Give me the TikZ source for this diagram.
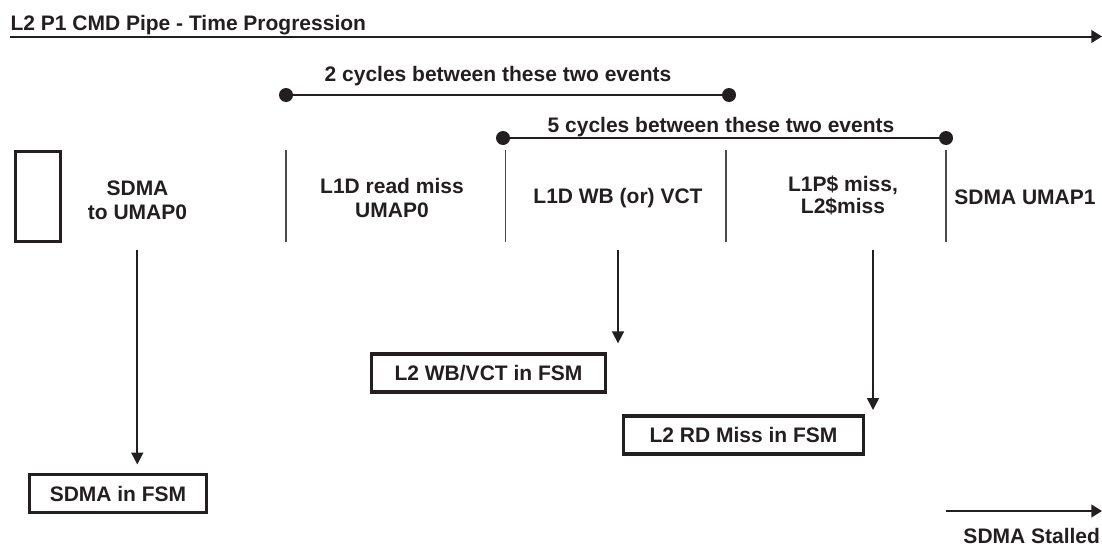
\documentclass[tikz,border=0pt]{standalone}
\usepackage{fontspec}
\setmainfont{Liberation Sans}
\usetikzlibrary{arrows.meta}
\definecolor{ink}{HTML}{231F20}
\definecolor{rule}{HTML}{4A4A4A}
\begin{document}
\begin{tikzpicture}[x=0.75pt,y=-0.75pt,
  every node/.style={inner sep=0pt,outer sep=0pt,text=ink,
    font=\fontsize{15.75}{18}\selectfont\bfseries},
  label2/.style={align=center},
  fsmbox/.style={draw=ink,line width=2.5pt,minimum height=28.5pt},
  sep/.style={draw=rule,line width=1.3pt},
  span/.style={draw=ink,line width=2pt},
  dot/.style={circle,fill=ink,minimum size=10.5pt},
  arr/.style={draw=ink,line width=1.3pt,-{Triangle[length=9pt,width=9pt]}},
  axis/.style={draw=ink,line width=1.5pt,-{Triangle[length=8pt,width=9.5pt]}}]
\useasboundingbox (0,0) rectangle (1102,546);

% time axis
\node[anchor=base west] (title) at (10.5,30) {L2 P1 CMD Pipe - Time Progression};
\coordinate (ax0) at (10,36.5);
\coordinate (ax1) at (1102,36.5);
\draw[axis] (ax0) -- (ax1);

% cycle spans
\node[dot] (d1a) at (286,95) {};
\node[dot] (d1b) at (729,95) {};
\draw[span] (d1a) -- (d1b);
\node[anchor=base] (c2) at (498,81) {2 cycles between these two events};

\node[dot] (d2a) at (503,138) {};
\node[dot] (d2b) at (946,138) {};
\draw[span] (d2a) -- (d2b);
\node[anchor=base] (c5) at (721,132) {5 cycles between these two events};

% pipe stage boundaries
\node[draw=ink,line width=2.6pt,minimum width=33.75pt,minimum height=67.5pt] (stage0) at (38,196.5) {};
\foreach \x/\n in {286/s1,505.5/s2,726/s3,946/s4}{
  \coordinate (\n t) at (\x,150);
  \coordinate (\n b) at (\x,242);
  \draw[sep] (\n t) -- (\n b);
}

% stage labels
\node[label2] (l1) at (137.5,200) {SDMA\\to UMAP0};
\node[label2] (l2) at (392,197.5) {L1D read miss\\UMAP0};
\node[anchor=base] (l3) at (618,203) {L1D WB (or) VCT};
\node[label2,font=\fontsize{15.75}{16.5}\selectfont\bfseries] (l4) at (843,195) {L1P\$ miss,\\L2\$miss};
\node[anchor=base] (l5) at (1025,204) {SDMA UMAP1};

% FSM entries
\node[fsmbox,minimum width=132.75pt] (f1) at (118,493.5) {SDMA in FSM};
\node[fsmbox,minimum width=175.5pt] (f2) at (488.5,373) {L2 WB/VCT in FSM};
\node[fsmbox,minimum width=180pt] (f3) at (743.5,435) {L2 RD Miss in FSM};

\coordinate (a1) at (137.3,250);
\coordinate (a2) at (618,250);
\coordinate (a3) at (873,250);
\draw[arr,shorten >=7.5pt] (a1) -- (a1 |- f1.north);
\draw[arr,shorten >=8pt] (a2) -- (a2 |- f2.north);
\draw[arr,shorten >=4.5pt] (a3) -- (a3 |- f3.north);

% stall marker
\coordinate (st0) at (946,511);
\coordinate (st1) at (1102,511);
\draw[axis] (st0) -- (st1);
\node[anchor=base east] (stall) at (1100,543) {SDMA Stalled};
\end{tikzpicture}
\end{document}
